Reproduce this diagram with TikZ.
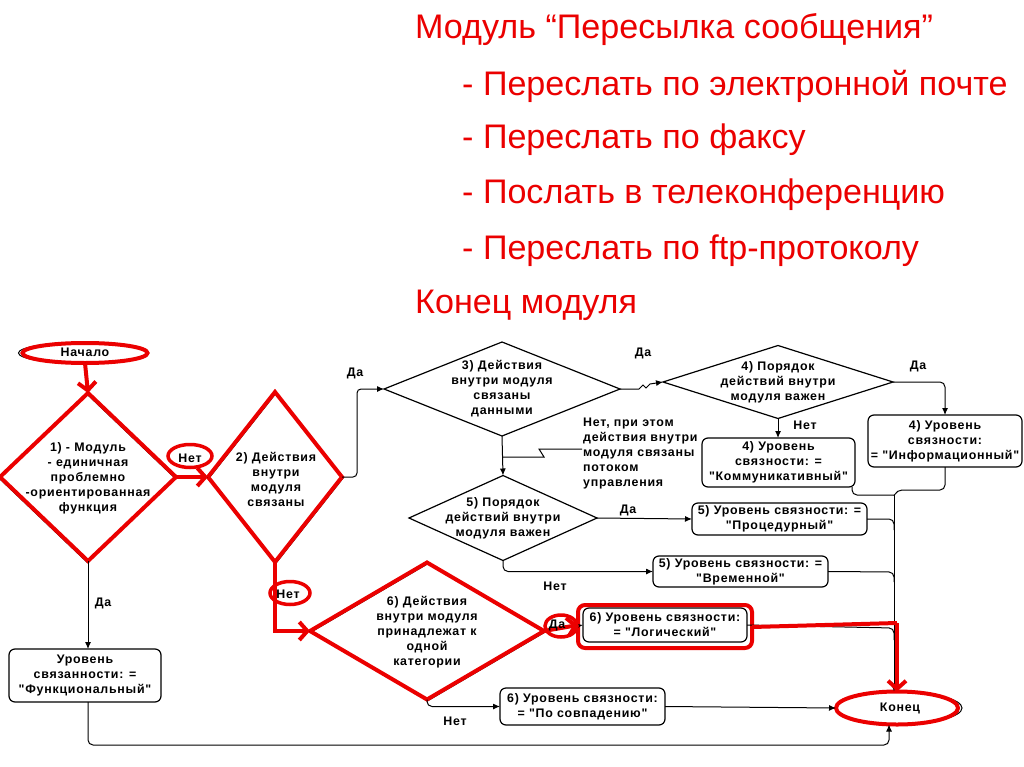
\documentclass[tikz,border=0pt]{standalone}
\usepackage{fontspec}
\setmainfont{Liberation Sans}
\newfontfamily\fcfam{Liberation Sans}[LetterSpace=6]
\usetikzlibrary{shapes.geometric,arrows.meta}
\definecolor{myred}{RGB}{235,0,0}
\newcommand\fcfont{\fcfam\bfseries\fontsize{12.4}{15}\selectfont}
\tikzset{
  blk/.style={draw=black, line width=1pt},
  arr/.style={blk, -{Latex[length=7pt,width=6pt]}},
  rd/.style={draw=myred, line width=4pt},
  rarr/.style={rd, -{Straight Barb[length=8pt,width=18pt]}},
  dia/.style={shape=diamond, draw=black, line width=1.2pt, inner sep=0pt, outer sep=0pt},
  rdia/.style={dia, draw=myred, line width=4pt},
  box/.style={draw=black, rounded corners=6pt, line width=1.2pt, align=center, inner sep=0pt, outer sep=0pt, font=\fcfont},
  fct/.style={font=\fcfont, align=center, inner sep=0pt},
  lbl/.style={font=\fcfont, inner sep=0pt},
  ttl/.style={font=\fontsize{34.1}{40}\selectfont, text=myred, anchor=base west, inner sep=0pt},
  rell/.style={shape=ellipse, draw=myred, line width=3.5pt, inner sep=0pt},
}
\begin{document}
\begin{tikzpicture}[x=1pt,y=-1pt]
\useasboundingbox[fill=white] (0,0) rectangle (1024,767);

% ---- title text
\node[ttl] (t1) at (415,39) {Модуль “Пересылка сообщения”};
\node[ttl] (t2) at (462,96) {- Переслать по электронной почте};
\node[ttl] (t3) at (462,149) {- Переслать по факсу};
\node[ttl] (t4) at (462,204) {- Послать в телеконференцию};
\node[ttl] (t5) at (462,259) {- Переслать по ftp-протоколу};
\node[ttl] (t6) at (415,313) {Конец модуля};

% ---- shapes
\node[shape=ellipse, draw=black, line width=1pt, minimum width=129pt, minimum height=21pt, inner sep=0pt] (startb) at (83,353) {};
\node[shape=ellipse, draw=myred, line width=4pt, minimum width=125pt, minimum height=20pt, inner sep=0pt, outer sep=0pt] (start) at (85,353) {};
\node[fct] (startt) at (85,352) {Начало};

\node[dia, minimum width=176pt, minimum height=168pt] (d1b) at (87,478) {};
\node[rdia, minimum width=176pt, minimum height=168pt] (d1) at (88,477) {};
\node[fct] (d1t) at (88,478) {1) - Модуль\\- единичная\\проблемно\\-ориентированная\\функция};

\node[dia, minimum width=134pt, minimum height=170pt] (d2b) at (276,478) {};
\node[rdia, minimum width=134pt, minimum height=170pt] (d2) at (275,477) {};
\node[fct] (d2t) at (276,479) {2) Действия\\внутри\\модуля\\связаны};

\node[dia, minimum width=236pt, minimum height=94pt] (d3) at (502,389) {};
\node[fct] (d3t) at (502,389) {3) Действия\\внутри модуля\\связаны\\данными};

\node[dia, minimum width=230pt, minimum height=73pt] (d4) at (778,382) {};
\node[fct] (d4t) at (778,382) {4) Порядок\\действий внутри\\модуля важен};

\node[dia, minimum width=188pt, minimum height=85pt] (d5) at (503,518) {};
\node[fct] (d5t) at (503,518) {5) Порядок\\действий внутри\\модуля важен};

\node[dia, minimum width=234pt, minimum height=137pt] (d6b) at (428,632) {};
\node[rdia, minimum width=234pt, minimum height=137pt] (d6) at (427,631) {};
\node[fct] (d6t) at (427,632) {6) Действия\\внутри модуля\\принадлежат к\\одной\\категории};

\node[box, minimum width=154pt, minimum height=52pt] (b4i) at (945,441) {4) Уровень\\связности:\\= "Информационный"};
\node[box, minimum width=153pt, minimum height=49pt] (b4k) at (778.5,462.5) {4) Уровень\\связности: =\\"Коммуникативный"};
\node[box, minimum width=175pt, minimum height=32pt] (b5p) at (779.5,519) {5) Уровень связности: =\\"Процедурный"};
\node[box, minimum width=175pt, minimum height=31pt] (b5v) at (740.5,571.5) {5) Уровень связности: =\\"Временной"};
\node[box, minimum width=164pt, minimum height=34pt] (bL) at (665,625) {6) Уровень связности:\\= "Логический"};
\draw[rd, rounded corners=7pt] (578,605) rectangle (752,648);
\node[box, minimum width=165pt, minimum height=37pt] (bS) at (582.5,706.5) {6) Уровень связности:\\= "По совпадению"};
\node[box, minimum width=152pt, minimum height=53pt] (bF) at (85,675.5) {Уровень\\связанности: =\\"Функциональный"};

\node[shape=ellipse, draw=black, line width=1pt, minimum width=126pt, minimum height=32pt, inner sep=0pt] (endb) at (899,708) {};
\node[shape=ellipse, draw=myred, line width=4pt, minimum width=122pt, minimum height=33pt, inner sep=0pt, outer sep=0pt] (endn) at (897,708) {};
\node[fct] (endt) at (900,708) {Конец};

% ---- black connectors
\draw[arr] (start.south) -- (d1.north);
\draw[blk] (d1.east) -- (d2.west);
\draw[arr, rounded corners=4pt] (d2.east) -- (357,477) -- (357,389) -- (d3.west);
\node[lbl] (l1) at (355,373) {Да};
\draw[arr] (d3.east) -- (639,389) -- (643,385) -- (646,388) -- (650,384) -- (d4.west);
\node[lbl] (l2) at (643,353) {Да};
\draw[arr, rounded corners=5pt] (d4.east) -| (b4i.north);
\node[lbl] (l3) at (918,366) {Да};
\draw[arr] (d4.south) -- (d4.south |- b4k.north);
\node[lbl] (l4) at (805,425) {Нет};
\draw[arr] (d3.south) -- (d5.north);
\coordinate (zz) at (503,457);
\draw[blk] (zz) -- (544,457) -- (539,449) -- (582,449);
\node[lbl, anchor=north west, align=left] (l5) at (583,418) {Нет, при этом\\действия внутри\\модуля связаны\\потоком\\управления};
\draw[arr] (d5.east) -- (b5p.west);
\node[lbl] (l6) at (628,510) {Да};
\draw[arr, rounded corners=5pt] (d5.south) |- (b5v.west);
\node[lbl] (l7) at (555,586) {Нет};
\draw[arr] (d1.south) -- (d1.south |- bF.north);
\node[lbl] (l8) at (103,603) {Да};
\coordinate (bl) at (88,745);
\coordinate (br) at (889,745);
\draw[arr, rounded corners=5pt] (bF.south -| d1.south) -- (bl) -- (br) -- (br |- endn.south);
\draw[blk] (d2.south) |- (d6.west);
\draw[arr] (d6.east) -- (bL.west);
\draw[arr, rounded corners=5pt] (d6.south) |- (bS.west);
\node[lbl] (l9) at (455,721) {Нет};
\draw[arr] (bS.east) -- (endn.west);
% collector
\coordinate (cx) at (894,495);
\coordinate (kx) at (852,487);
\draw[blk, rounded corners=5pt] (kx) -- (852,495) -- (cx);
\draw[blk, rounded corners=5pt] (b4i.south) -- (945,490) -- (897,490) -- (894,496);
\draw[blk, rounded corners=5pt] (b5p.east) -- (894,519) -- (894,530);
\draw[blk, rounded corners=5pt] (b5v.east) -- (894,572) -- (894,582);
\draw[blk, rounded corners=5pt] (bL.east) -- (894,628) -- (894,640);
\draw[arr] (cx) -- (cx |- endn.north);

% ---- red overlays
\draw[rarr] (start.south) -- (d1.north);
\draw[rarr] (d1.east) -- (d2.west);
\node[rell, minimum width=44pt, minimum height=23pt] (n1) at (190,456) {};
\node[lbl] (n1t) at (190,458) {Нет};
\draw[rarr] (d2.south) |- (d6.west);
\node[rell, minimum width=40pt, minimum height=23pt] (n2) at (290,593) {};
\node[lbl] (n2t) at (288,594) {Нет};
\coordinate (lw) at (578,625);
\draw[rarr] (d6.east) -- (lw);
\node[rell, minimum width=32pt, minimum height=22pt] (n3) at (561,626) {};
\node[lbl] (n3t) at (557,625) {Да};
\coordinate (rc) at (897,623);
\draw[rd] (752,627) -- (rc);
\draw[rarr] (rc) -- (rc |- endn.north);
\end{tikzpicture}
\end{document}
